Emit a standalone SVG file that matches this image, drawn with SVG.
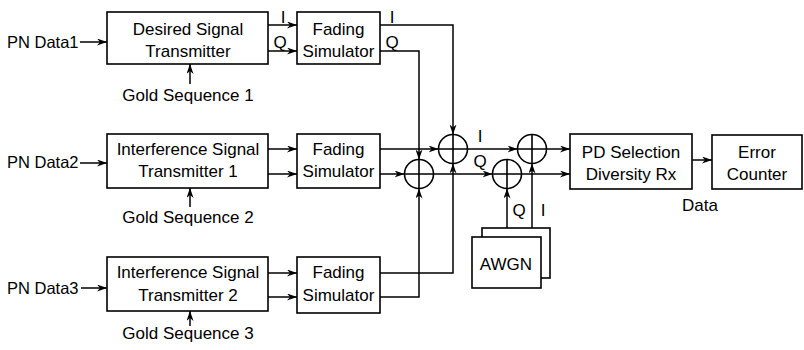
<svg xmlns="http://www.w3.org/2000/svg" width="804" height="350" viewBox="0 0 804 350">
<style>
.box{fill:#fff;stroke:#000;stroke-width:1.6}
.ln{fill:none;stroke:#000;stroke-width:1.5}
.arr{marker-end:url(#ah)}
text{font-family:"Liberation Sans",Arial,Helvetica,sans-serif;font-size:17px;fill:#000}
.c{text-anchor:middle}
.sm{font-size:16.5px}
.add circle{fill:#fff;stroke:#000;stroke-width:1.6}
.add path{stroke:#000;stroke-width:1.6}
</style>
<defs>
<marker id="ah" markerUnits="userSpaceOnUse" markerWidth="10" markerHeight="7" viewBox="0 0 10 7" refX="10" refY="3.5" orient="auto">
<path d="M0,0 L10,3.5 L0,7 L3,3.5 z" fill="#000"/>
</marker>
</defs>
<rect width="804" height="350" fill="#fff"/>

<g id="connectors">
<!-- inputs -->
<line class="ln arr" x1="80" y1="42" x2="107" y2="42"/>
<line class="ln arr" x1="80" y1="163" x2="107" y2="163"/>
<line class="ln arr" x1="81" y1="288" x2="107" y2="288"/>
<line class="ln arr" x1="190" y1="84" x2="190" y2="64"/>
<line class="ln arr" x1="190" y1="207" x2="190" y2="188"/>
<line class="ln arr" x1="190" y1="326" x2="190" y2="311"/>
<!-- transmitter to fading -->
<line class="ln arr" x1="268" y1="25" x2="297" y2="25"/>
<line class="ln arr" x1="268" y1="51" x2="297" y2="51"/>
<line class="ln arr" x1="268" y1="149" x2="297" y2="149"/>
<line class="ln arr" x1="268" y1="174" x2="297" y2="174"/>
<line class="ln arr" x1="268" y1="273" x2="297" y2="273"/>
<line class="ln arr" x1="268" y1="297" x2="297" y2="297"/>
<!-- fading outputs -->
<polyline class="ln arr" points="380,25 453,25 453,134.5"/>
<polyline class="ln arr" points="380,51 419,51 419,159.5"/>
<line class="ln arr" x1="380" y1="149" x2="438.5" y2="149"/>
<line class="ln arr" x1="380" y1="174" x2="404.5" y2="174"/>
<polyline class="ln arr" points="380,273 453,273 453,163.5"/>
<polyline class="ln arr" points="380,297 419,297 419,188.5"/>
<!-- adder chain -->
<line class="ln arr" x1="467.5" y1="149" x2="517.5" y2="149"/>
<line class="ln arr" x1="433.5" y1="174" x2="492.5" y2="174"/>
<line class="ln arr" x1="546.5" y1="149" x2="570" y2="149"/>
<line class="ln arr" x1="521.5" y1="174" x2="570" y2="174"/>
<!-- AWGN -->
<line class="ln arr" x1="507" y1="237" x2="507" y2="188.5"/>
<line class="ln arr" x1="532" y1="228" x2="532" y2="163.5"/>
<!-- PD to error -->
<line class="ln arr" x1="692" y1="160" x2="712" y2="160"/>
</g>

<g id="pn1"><text x="7" y="48" class="sm">PN Data1</text></g>
<g id="pn2"><text x="7" y="168" class="sm">PN Data2</text></g>
<g id="pn3"><text x="7" y="294" class="sm">PN Data3</text></g>
<g id="gold1"><text x="188" y="101" class="c">Gold Sequence 1</text></g>
<g id="gold2"><text x="188" y="223" class="c">Gold Sequence 2</text></g>
<g id="gold3"><text x="188" y="339" class="c">Gold Sequence 3</text></g>

<g id="tx1">
<rect class="box" x="107" y="12" width="161" height="52"/>
<text x="188" y="35" class="c">Desired Signal</text>
<text x="188" y="57" class="c">Transmitter</text>
</g>
<g id="tx2">
<rect class="box" x="107" y="134" width="161" height="54"/>
<text x="188" y="155" class="c">Interference Signal</text>
<text x="188" y="177" class="c">Transmitter 1</text>
</g>
<g id="tx3">
<rect class="box" x="107" y="257" width="161" height="54"/>
<text x="188" y="278" class="c">Interference Signal</text>
<text x="188" y="301" class="c">Transmitter 2</text>
</g>

<g id="fs1">
<rect class="box" x="297" y="12" width="83" height="52"/>
<text x="338.5" y="35" class="c">Fading</text>
<text x="338.5" y="57" class="c">Simulator</text>
</g>
<g id="fs2">
<rect class="box" x="297" y="134" width="83" height="54"/>
<text x="338.5" y="155" class="c">Fading</text>
<text x="338.5" y="177" class="c">Simulator</text>
</g>
<g id="fs3">
<rect class="box" x="297" y="257" width="83" height="56"/>
<text x="338.5" y="278" class="c">Fading</text>
<text x="338.5" y="301" class="c">Simulator</text>
</g>

<g id="iq-labels">
<text x="283" y="23" class="c">I</text>
<text x="280" y="48" class="c">Q</text>
<text x="392" y="23" class="c">I</text>
<text x="392" y="48" class="c">Q</text>
<text x="480" y="142" class="c">I</text>
<text x="480" y="167" class="c">Q</text>
<text x="519" y="216" class="c">Q</text>
<text x="543" y="216" class="c">I</text>
</g>

<g id="adderA" class="add">
<circle cx="453" cy="149" r="14.5"/>
<path d="M438.5,149 H467.5 M453,134.5 V163.5"/>
</g>
<g id="adderB" class="add">
<circle cx="419" cy="174" r="14.5"/>
<path d="M404.5,174 H433.5 M419,159.5 V188.5"/>
</g>
<g id="adderC" class="add">
<circle cx="507" cy="174" r="14.5"/>
<path d="M492.5,174 H521.5 M507,159.5 V188.5"/>
</g>
<g id="adderD" class="add">
<circle cx="532" cy="149" r="14.5"/>
<path d="M517.5,149 H546.5 M532,134.5 V163.5"/>
</g>

<g id="awgn">
<rect class="box" x="482" y="228" width="68" height="50"/>
<rect class="box" x="472" y="237" width="69" height="51"/>
<text x="506" y="270" class="c">AWGN</text>
</g>

<g id="pd">
<rect class="box" x="570" y="134" width="122" height="55"/>
<text x="631" y="158" class="c">PD Selection</text>
<text x="631" y="180" class="c">Diversity Rx</text>
</g>
<g id="data"><text x="700" y="211" class="c">Data</text></g>
<g id="err">
<rect class="box" x="712" y="135" width="90" height="54"/>
<text x="757" y="158" class="c">Error</text>
<text x="757" y="180" class="c">Counter</text>
</g>
</svg>
